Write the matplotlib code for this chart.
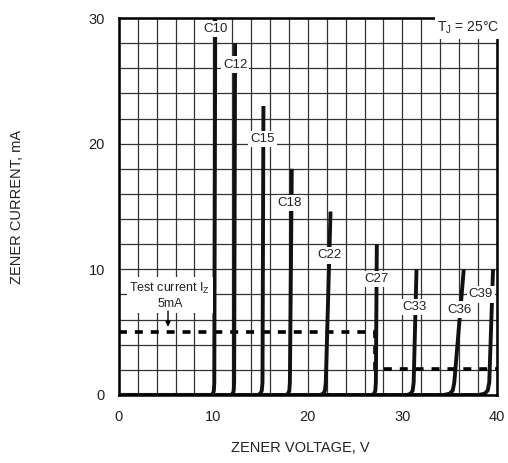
import numpy as np
import matplotlib
matplotlib.use('Agg')
import matplotlib.pyplot as plt
from matplotlib.ticker import MultipleLocator

plt.rcParams['font.family'] = ['Liberation Sans', 'DejaVu Sans']
plt.rcParams['mathtext.fontset'] = 'custom'
plt.rcParams['mathtext.rm'] = 'Liberation Sans'

# zener curves
labels = ['C10', 'C12', 'C15', 'C18', 'C22', 'C27', 'C33', 'C36', 'C39']
v_knee = [9.8, 11.9, 14.7, 17.7, 21.3, 26.8, 30.5, 34.4, 38.1]   # where current leaves 0
v_bottom = [10.1, 12.2, 15.2, 18.1, 21.9, 27.2, 31.2, 35.5, 39.2]  # at ~1 mA
v_top = [10.2, 12.3, 15.3, 18.3, 22.4, 27.3, 31.5, 36.5, 39.6]
i_top = [30, 28, 23, 18, 14.6, 12, 10, 10, 10]

# label positions (V, mA)
lab_v = [10.2, 12.3, 15.2, 18.1, 22.3, 27.3, 31.3, 36.0, 38.3]
lab_i = [29.1, 26.3, 20.4, 15.3, 11.1, 9.2, 7.0, 6.8, 8.0]

# test current line
test_v = [0, 27.1, 27.1, 40]
test_i = [5, 5, 2.1, 2.1]

fig = plt.figure(figsize=(5.08, 4.63), dpi=100)
ax = fig.add_axes([0.234, 0.147, 0.744, 0.814])

ax.set_xlim(0, 40)
ax.set_ylim(0, 30)
ax.xaxis.set_major_locator(MultipleLocator(10))
ax.yaxis.set_major_locator(MultipleLocator(10))
ax.xaxis.set_minor_locator(MultipleLocator(2))
ax.yaxis.set_minor_locator(MultipleLocator(2))
ax.grid(True, which='both', color='#333333', lw=0.9, zorder=0)
ax.tick_params(which='both', length=0, labelsize=10.5, colors='#222222')
ax.tick_params(axis='x', pad=11)
ax.tick_params(axis='y', pad=10)
for s in ax.spines.values():
    s.set_linewidth(1.8)
    s.set_zorder(5)

ax.plot(test_v, test_i, color='black', lw=2.6, ls=(0, (2.2, 2.2)), zorder=3)

for i in range(len(labels)):
    kv = v_knee[i]
    bv = v_bottom[i]
    vs = [0, kv, kv + (bv - kv) * 0.55, kv + (bv - kv) * 0.85, bv, v_top[i]]
    cs = [0, 0, 0.1, 0.35, 1.0, i_top[i]]
    ax.plot(vs, cs, color='#111111', lw=2.8, solid_capstyle='butt',
            solid_joinstyle='round', zorder=4)
    ax.text(lab_v[i], lab_i[i], labels[i], ha='center', va='center', fontsize=9.5,
            color='#222222', zorder=6,
            bbox=dict(facecolor='white', edgecolor='none', pad=1.5))

ax.text(37.0, 29.2, r'T$_\mathrm{J}$ = 25°C', ha='center', va='center', fontsize=10,
        color='#222222', zorder=6,
        bbox=dict(facecolor='white', edgecolor='none', pad=2))

ax.text(5.4, 7.9, 'Test current I$_\\mathrm{Z}$\n5mA', ha='center', va='center',
        fontsize=9, color='#222222', linespacing=1.25, zorder=6,
        bbox=dict(facecolor='white', edgecolor='none', pad=2))
ax.annotate('', xy=(5.2, 5.2), xytext=(5.2, 6.9),
            arrowprops=dict(arrowstyle='-|>', color='black', lw=1, mutation_scale=7),
            zorder=7)

ax.set_xlabel('ZENER VOLTAGE, V', fontsize=10.5, color='#222222')
ax.set_ylabel('ZENER CURRENT, mA', fontsize=10.5, color='#222222')
ax.xaxis.set_label_coords(0.479, -0.122)
ax.yaxis.set_label_coords(-0.25, 0.5)

fig.savefig('out.png', dpi=100)
